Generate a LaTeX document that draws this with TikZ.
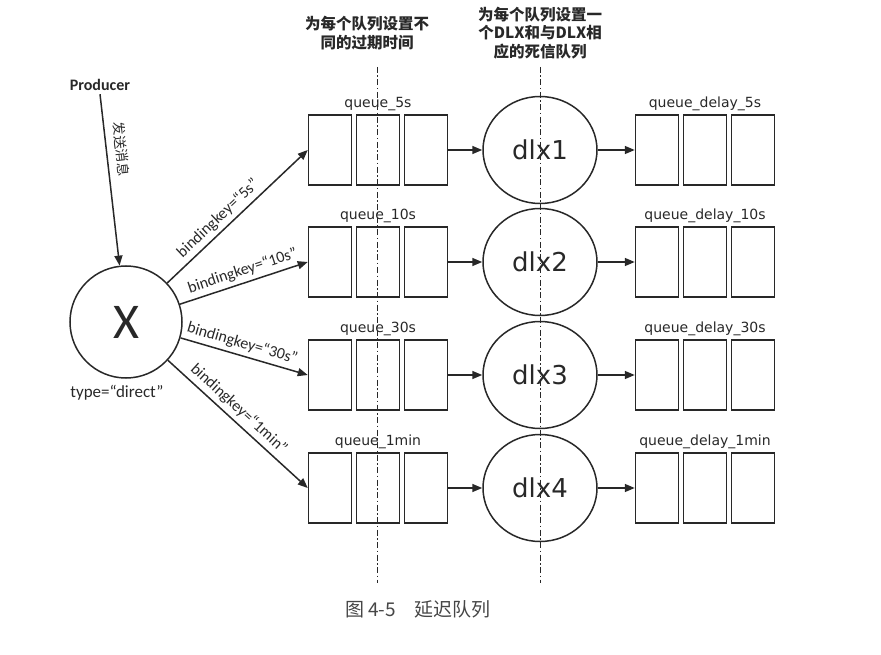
\documentclass[tikz,border=0pt]{standalone}
\usepackage{fontspec}
\setmainfont{Carlito}
\newfontfamily\cjk{Noto Sans CJK SC}
\newfontfamily\qfont{DejaVu Sans}
\definecolor{inkgray}{RGB}{40,40,40}
\definecolor{capgray}{RGB}{70,70,70}
\usetikzlibrary{arrows.meta, positioning, shapes.geometric}

\begin{document}
\begin{tikzpicture}[x=1pt, y=-1pt,
    cell/.style={rectangle, draw=inkgray, line width=1.5pt, minimum width=43pt,
                 minimum height=70pt, inner sep=0pt},
    dlxnode/.style={ellipse, draw=inkgray, line width=1.5pt, minimum width=114pt,
                 minimum height=107pt, text=inkgray, font=\qfont\fontsize{26}{26}\selectfont},
    exch/.style={circle, draw=inkgray, line width=1.5pt, minimum size=112pt,
                 text=inkgray, font=\fontsize{50}{50}\selectfont},
    qname/.style={text=inkgray, inner sep=2pt, font=\qfont\fontsize{14}{14}\selectfont},
    keylabel/.style={sloped, above=3pt, inner sep=1pt, text=inkgray,
                 font=\fontsize{16}{16}\selectfont},
    title/.style={align=center, text=inkgray, font=\cjk\bfseries\fontsize{15.5}{18.5}\selectfont},
    arr/.style={-{Triangle[length=10pt, width=8pt]}, line width=1.5pt, draw=inkgray},
    guide/.style={line width=1pt, draw=inkgray, dash pattern=on 6pt off 2.5pt on 1.5pt off 2.5pt}
  ]
  \useasboundingbox (0,0) rectangle (881,655);

  % headings over the two guide lines
  \node[title] (head1) at (367,33) {为每个队列设置不\\同的过期时间};
  \node[title] (head2) at (540,33) {为每个队列设置一\\个DLX和与DLX相\\应的死信队列};

  % exchange and producer
  \node[exch] (X) at (126,322) {X};
  \node[text=inkgray, font=\fontsize{17}{17}\selectfont] (xtype) at (117,393) {type=“direct”};
  \node[text=inkgray, font=\bfseries\fontsize{16}{16}\selectfont] (prod) at (100,85) {Producer};
  \draw[arr] (prod.south) -- node[pos=0.33, sloped, above=8pt, inner sep=0pt, text=inkgray,
      font=\cjk\fontsize{13.5}{13.5}\selectfont] {发送消息} (X);

  % queues, dead letter exchanges and delay queues
  \foreach \i/\y/\t/\p in {1/150/5s/0.42, 2/262/10s/0.52, 3/375/30s/0.46, 4/488/1min/0.45} {
    \node[cell] (q\i a) at (330,\y) {};
    \node[cell, right=3.5pt of q\i a] (q\i b) {};
    \node[cell, right=3.5pt of q\i b] (q\i c) {};
    \node[qname, above=1pt of q\i b] (qn\i) {queue\_\t};
    \node[dlxnode] (d\i) at (540,\y) {dlx\i};
    \node[cell] (p\i a) at (657,\y) {};
    \node[cell, right=3.5pt of p\i a] (p\i b) {};
    \node[cell, right=3.5pt of p\i b] (p\i c) {};
    \node[qname, above=1pt of p\i b] (pn\i) {queue\_delay\_\t};
    \draw[arr] (X) -- node[keylabel, pos=\p] {bindingkey=“\t”} (q\i a.west);
    \draw[arr] (q\i c) -- (d\i);
    \draw[arr] (d\i) -- (p\i a);
  }

  % guide lines
  \coordinate (g1top) at (377,67);
  \coordinate (g1bot) at (377,583);
  \coordinate (g2top) at (540,67);
  \coordinate (g2bot) at (540,583);
  \draw[guide] (g1top) -- (g1bot);
  \draw[guide] (g2top) -- (g2bot);

  % caption
  \node[text=capgray, font=\cjk\fontsize{19}{19}\selectfont] (caption) at (418,609) {图 4-5\quad 延迟队列};
\end{tikzpicture}
\end{document}
